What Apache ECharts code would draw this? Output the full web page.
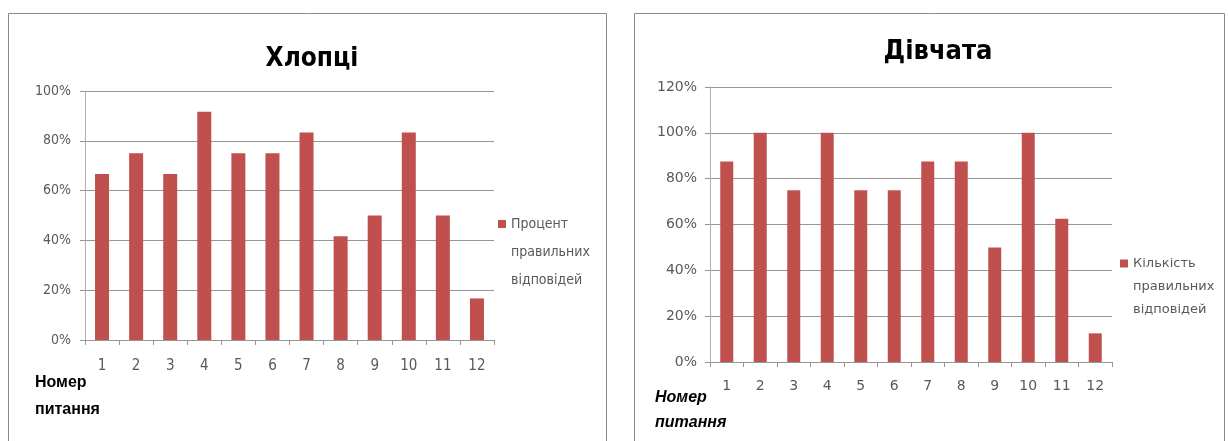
<!DOCTYPE html>
<html>
<head>
<meta charset="utf-8">
<script src="https://cdn.jsdelivr.net/npm/echarts@6/dist/echarts.min.js"></script>
<style>
  html, body { margin: 0; padding: 0; background: #ffffff; }
  #chart { width: 1228px; height: 441px; }
</style>
</head>
<body>
<div id="chart"></div>
<script>
// Question numbers shared by both panels
const questions = ['1', '2', '3', '4', '5', '6', '7', '8', '9', '10', '11', '12'];

// Share of correct answers per question, %
const boysPercent  = [66.7, 75, 66.7, 91.7, 75, 75, 83.3, 41.7, 50, 83.3, 50, 16.7];
const girlsPercent = [87.5, 100, 75, 100, 75, 75, 87.5, 87.5, 50, 100, 62.5, 12.5];

// Panel titles and series names
const boysTitle  = 'Хлопці';
const girlsTitle = 'Дівчата';
const boysSeries  = 'Процент правильних відповідей';
const girlsSeries = 'Кількість правильних відповідей';
const axisName = ['Номер', 'питання'];

const BAR = '#c0504d';
const GRID = '#969696';
const AXIS = '#b0b0b0';
const LABEL = '#595959';
const NARROW = "'DejaVu Sans Condensed', sans-serif";
const WIDE = "'DejaVu Sans', sans-serif";

const chart = echarts.init(document.getElementById('chart'), null, { renderer: 'canvas' });

function yAxis(gridIndex, max, font, size, margin) {
  return {
    type: 'value', gridIndex, min: 0, max, interval: 20,
    axisLine: { show: true, lineStyle: { color: AXIS } },
    axisTick: { show: true, length: 5, lineStyle: { color: GRID } },
    splitLine: { lineStyle: { color: GRID, width: 1 } },
    axisLabel: { formatter: '{value}%', color: LABEL, fontFamily: font, fontSize: size, margin }
  };
}
function xAxis(gridIndex, font, size, margin) {
  return {
    type: 'category', gridIndex, data: questions,
    axisLine: { show: true, lineStyle: { color: GRID } },
    axisTick: { show: true, length: 5, lineStyle: { color: GRID } },
    axisLabel: { color: LABEL, fontFamily: font, fontSize: size, margin }
  };
}
// Legend text: one word per line, first line level with the marker
// (two blank lines in front keep the block centred on the first word)
const splitName = n => '\u00a0\n\u00a0\n' + n.split(' ').join('\n');

chart.setOption({
  animation: false,
  title: [
    { text: boysTitle, left: 307, top: 41, textAlign: 'center',
      textStyle: { fontFamily: NARROW, fontWeight: 'bold', fontSize: 26, color: '#000' } },
    { text: girlsTitle, left: 933, top: 33, textAlign: 'center',
      textStyle: { fontFamily: NARROW, fontWeight: 'bold', fontSize: 27, color: '#000' } }
  ],
  legend: [
    { data: [boysSeries], left: 498, top: 154, padding: 0, orient: 'vertical',
      icon: 'rect', itemWidth: 8, itemHeight: 8, formatter: splitName,
      textStyle: { fontFamily: NARROW, fontSize: 14, color: LABEL, lineHeight: 28 } },
    { data: [girlsSeries], left: 1120, top: 206, padding: 0, orient: 'vertical',
      icon: 'rect', itemWidth: 8, itemHeight: 8, formatter: splitName,
      textStyle: { fontFamily: WIDE, fontSize: 13, color: LABEL, lineHeight: 23 } }
  ],
  grid: [
    { left: 85, top: 91, width: 409, height: 249 },
    { left: 710, top: 87, width: 402, height: 275 }
  ],
  xAxis: [ xAxis(0, NARROW, 15, 19), xAxis(1, WIDE, 14, 17) ],
  yAxis: [ yAxis(0, 100, NARROW, 14, 14), yAxis(1, 120, WIDE, 14, 13) ],
  series: [
    { name: boysSeries, type: 'bar', xAxisIndex: 0, yAxisIndex: 0, data: boysPercent,
      barWidth: 14, itemStyle: { color: BAR } },
    { name: girlsSeries, type: 'bar', xAxisIndex: 1, yAxisIndex: 1, data: girlsPercent,
      barWidth: 13, itemStyle: { color: BAR } }
  ],
  graphic: [
    { type: 'rect', shape: { x: 8.5, y: 13.5, width: 598, height: 440 }, silent: true,
      style: { fill: 'none', stroke: '#8a8a8a', lineWidth: 1 } },
    { type: 'rect', shape: { x: 634.5, y: 13.5, width: 590, height: 440 }, silent: true,
      style: { fill: 'none', stroke: '#8a8a8a', lineWidth: 1 } },
    { type: 'text', left: 35, top: 369, silent: true,
      style: { text: axisName.join('\n'), fontFamily: "'Liberation Sans', sans-serif", fontWeight: 'bold',
               fontSize: 16, lineHeight: 27, fill: '#000' } },
    { type: 'text', left: 655, top: 385, silent: true,
      style: { text: axisName.join('\n'), fontFamily: "'Liberation Sans', sans-serif", fontWeight: 'bold',
               fontStyle: 'italic', fontSize: 16, lineHeight: 25, fill: '#000' } }
  ]
});
</script>
</body>
</html>
